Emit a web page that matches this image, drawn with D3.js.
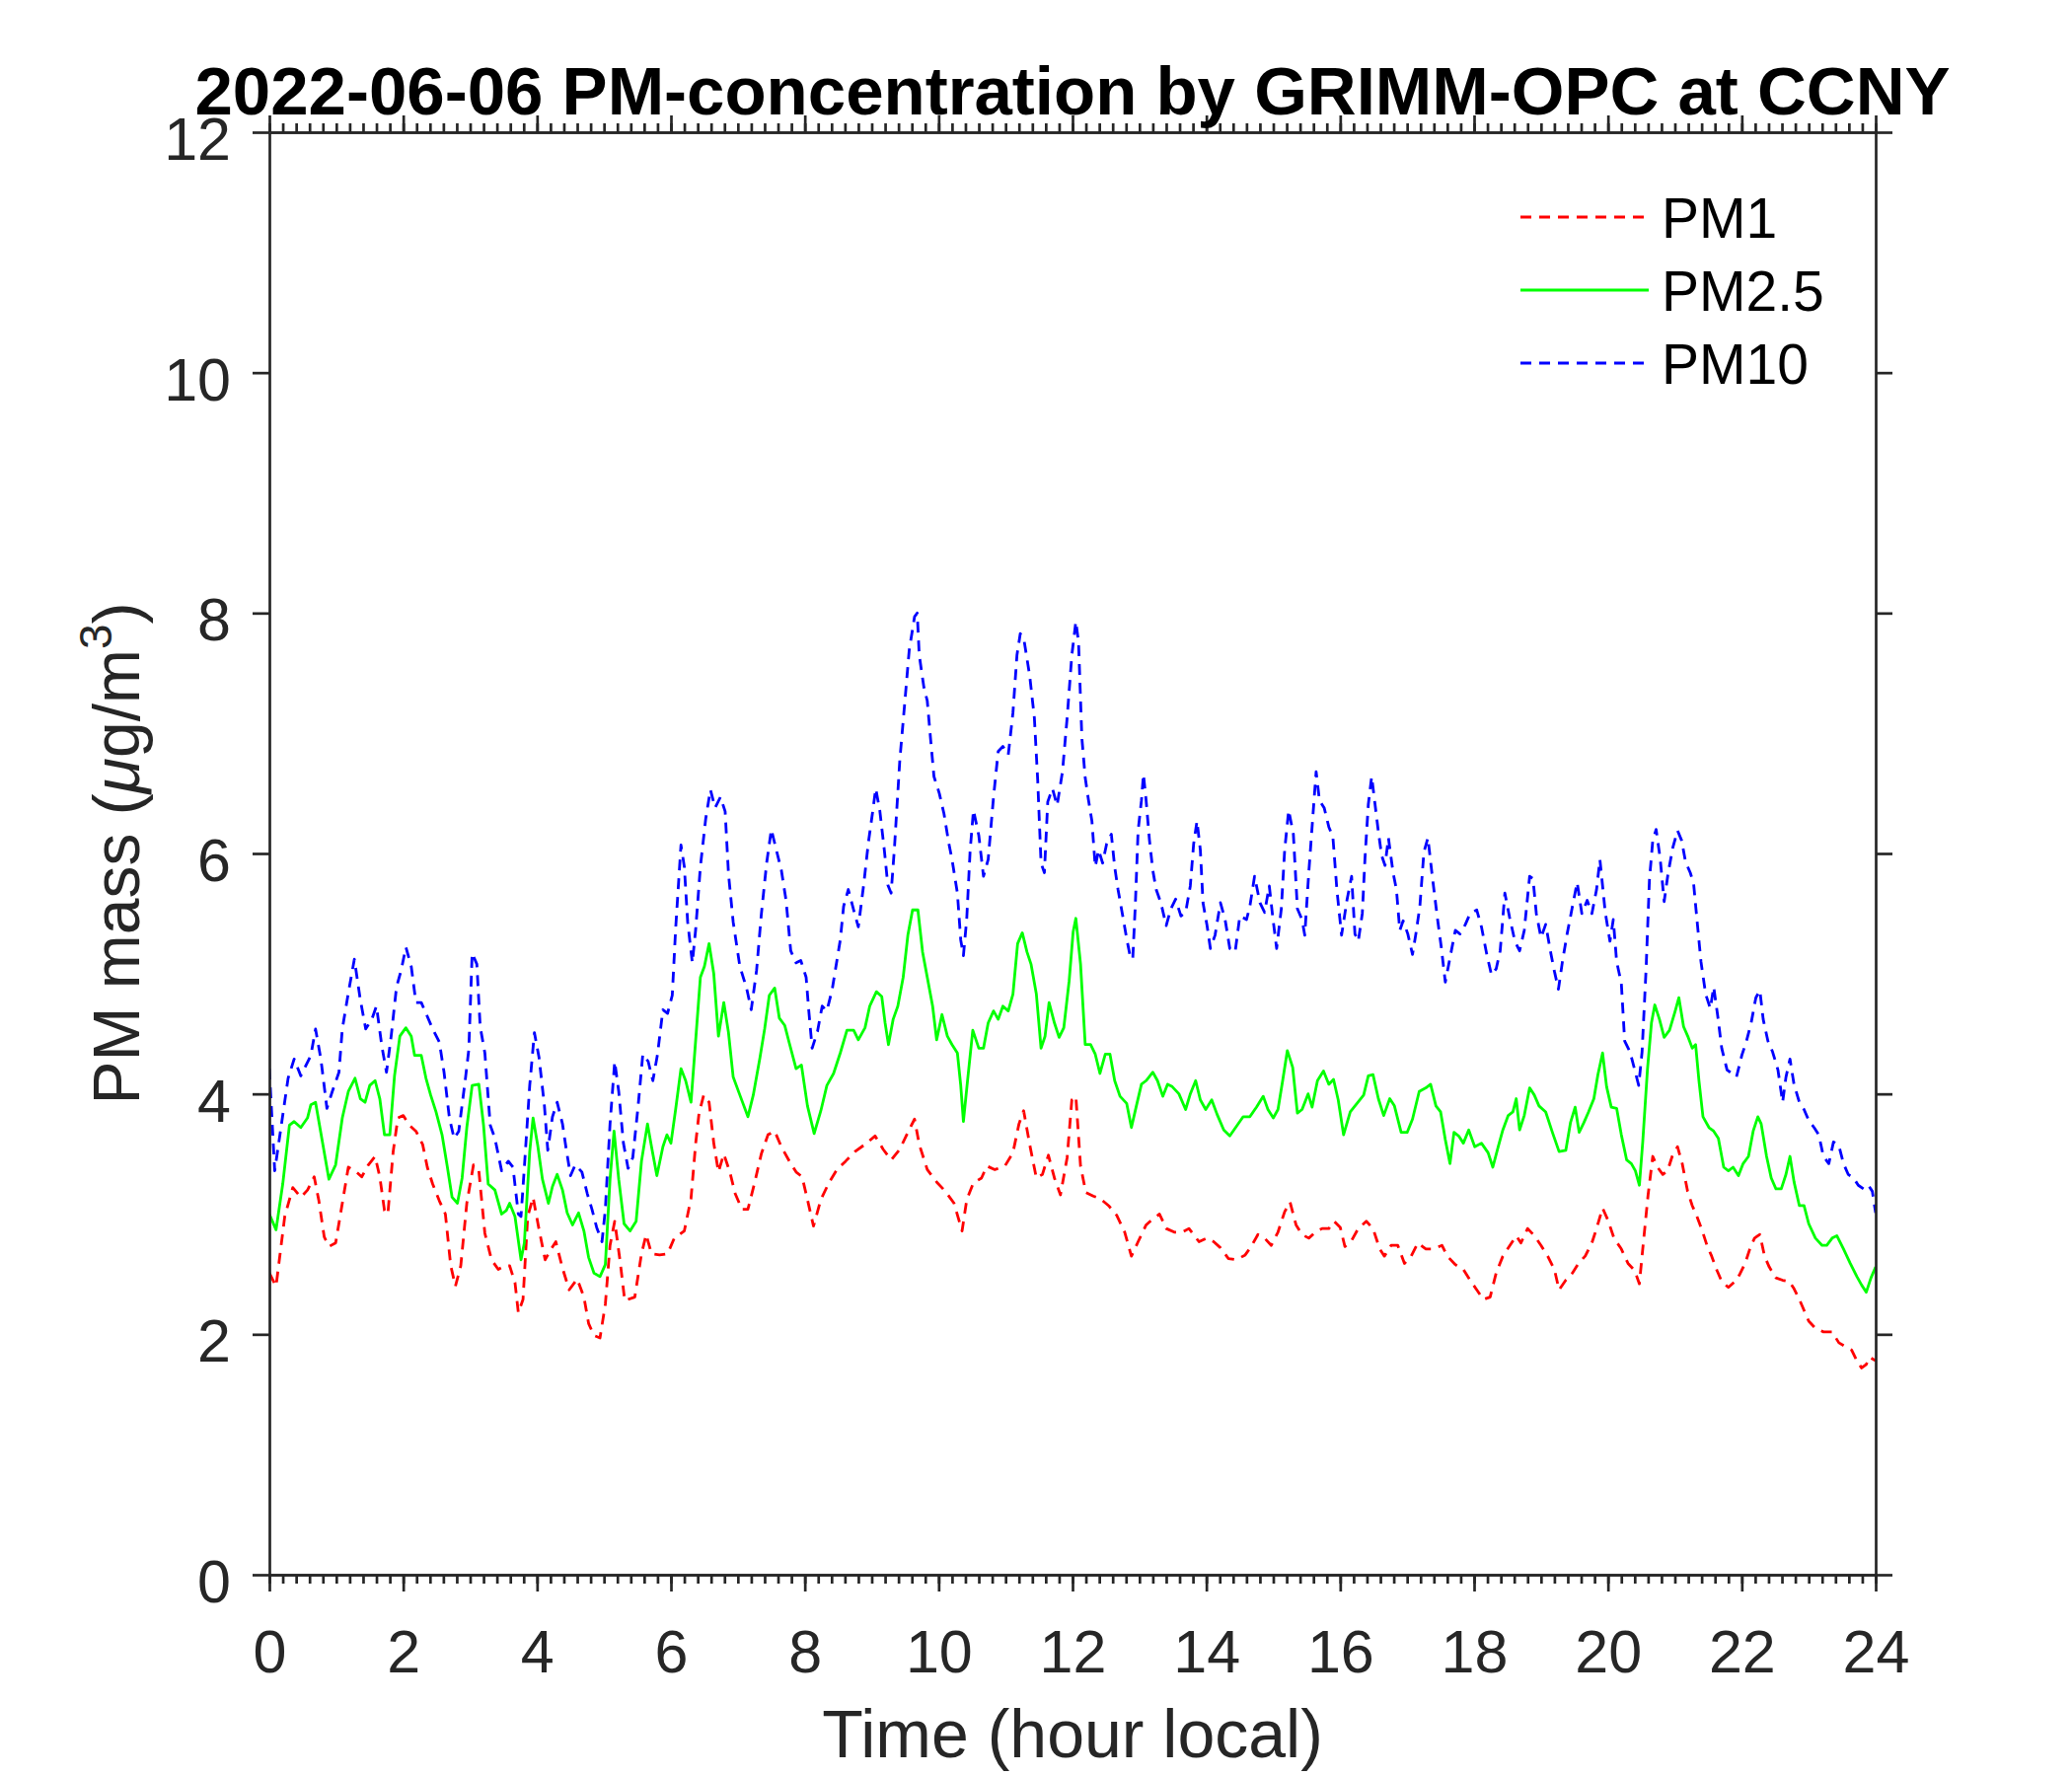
<!DOCTYPE html>
<html>
<head>
<meta charset="utf-8">
<script src="https://cdn.jsdelivr.net/npm/d3@7"></script>
<style>
  body { margin: 0; background: #fff; }
  svg { display: block; }
</style>
</head>
<body>
<div id="chart"></div>
<script>
// readings: [hour, value in ug/m3]
const pm1Data = [
  [0,2.51],[0.10,2.40],[0.23,2.98],[0.35,3.22],[0.47,3.14],[0.57,3.20],[0.67,3.31],[0.74,3.11],[0.82,2.81],[0.89,2.73],
  [0.99,2.76],[1.09,3.09],[1.18,3.39],[1.28,3.36],[1.38,3.31],[1.48,3.41],[1.58,3.48],[1.65,3.31],[1.72,3.03],[1.77,3.00],
  [1.85,3.52],[1.92,3.80],[2.00,3.82],[2.09,3.74],[2.19,3.69],[2.29,3.58],[2.36,3.39],[2.44,3.25],[2.54,3.11],[2.63,3.00],
  [2.71,2.57],[2.78,2.40],[2.86,2.57],[2.95,3.09],[3.05,3.41],[3.13,3.36],[3.22,2.84],[3.32,2.62],[3.42,2.54],[3.52,2.57],
  [3.59,2.57],[3.67,2.43],[3.72,2.18],[3.79,2.29],[3.86,2.98],[3.94,3.14],[4.02,2.90],[4.12,2.62],[4.21,2.71],[4.28,2.77],
  [4.38,2.55],[4.48,2.37],[4.60,2.46],[4.70,2.31],[4.77,2.09],[4.85,1.99],[4.94,1.97],[5.02,2.25],[5.09,2.74],[5.16,2.94],
  [5.24,2.61],[5.31,2.28],[5.46,2.31],[5.56,2.67],[5.63,2.83],[5.71,2.67],[5.83,2.66],[5.95,2.67],[6.05,2.80],[6.20,2.86],
  [6.30,3.13],[6.37,3.59],[6.42,3.84],[6.49,3.99],[6.57,3.93],[6.64,3.59],[6.71,3.35],[6.79,3.50],[6.88,3.35],[6.96,3.17],
  [7.06,3.04],[7.15,3.04],[7.25,3.26],[7.35,3.50],[7.45,3.66],[7.55,3.69],[7.65,3.56],[7.77,3.44],[7.87,3.35],[7.96,3.31],
  [8.04,3.12],[8.13,2.90],[8.24,3.12],[8.36,3.26],[8.48,3.37],[8.61,3.44],[8.75,3.52],[8.90,3.58],[9.05,3.65],[9.17,3.54],
  [9.29,3.45],[9.42,3.54],[9.54,3.68],[9.64,3.79],[9.71,3.58],[9.83,3.37],[9.98,3.26],[10.10,3.19],[10.23,3.09],[10.35,2.86],
  [10.42,3.12],[10.52,3.26],[10.64,3.30],[10.72,3.40],[10.84,3.37],[10.99,3.40],[11.11,3.51],[11.20,3.75],[11.27,3.86],[11.36,3.58],
  [11.46,3.30],[11.55,3.33],[11.64,3.49],[11.73,3.30],[11.82,3.16],[11.92,3.47],[11.99,3.95],[12.05,3.98],[12.12,3.40],[12.20,3.18],
  [12.31,3.15],[12.41,3.13],[12.54,3.07],[12.66,2.99],[12.78,2.85],[12.88,2.65],[12.98,2.77],[13.10,2.91],[13.20,2.96],[13.30,3.00],
  [13.40,2.88],[13.52,2.85],[13.64,2.85],[13.74,2.88],[13.89,2.77],[14.01,2.80],[14.11,2.77],[14.21,2.72],[14.33,2.63],[14.45,2.62],
  [14.58,2.66],[14.67,2.73],[14.77,2.83],[14.87,2.80],[14.97,2.74],[15.07,2.85],[15.17,3.02],[15.25,3.10],[15.34,2.91],[15.43,2.83],
  [15.53,2.80],[15.63,2.85],[15.73,2.88],[15.83,2.88],[15.91,2.94],[16.00,2.89],[16.07,2.73],[16.17,2.78],[16.27,2.88],[16.39,2.94],
  [16.49,2.88],[16.59,2.71],[16.66,2.65],[16.76,2.74],[16.86,2.74],[16.96,2.59],[17.06,2.65],[17.16,2.76],[17.28,2.71],[17.40,2.71],
  [17.52,2.74],[17.60,2.65],[17.72,2.58],[17.84,2.54],[17.94,2.45],[18.04,2.37],[18.14,2.29],[18.24,2.31],[18.33,2.51],[18.43,2.65],
  [18.56,2.76],[18.63,2.82],[18.70,2.76],[18.80,2.88],[18.90,2.82],[19.00,2.74],[19.10,2.65],[19.20,2.54],[19.27,2.37],[19.37,2.45],
  [19.47,2.51],[19.56,2.59],[19.66,2.65],[19.76,2.76],[19.83,2.88],[19.92,3.05],[20.00,2.95],[20.09,2.80],[20.20,2.71],[20.30,2.59],
  [20.40,2.53],[20.47,2.42],[20.52,2.71],[20.60,3.16],[20.67,3.48],[20.74,3.39],[20.82,3.33],[20.89,3.36],[20.96,3.48],[21.04,3.56],
  [21.11,3.42],[21.19,3.19],[21.26,3.07],[21.33,2.98],[21.41,2.86],[21.48,2.74],[21.55,2.65],[21.63,2.53],[21.70,2.44],[21.80,2.39],
  [21.90,2.44],[21.97,2.50],[22.05,2.59],[22.12,2.71],[22.19,2.80],[22.27,2.83],[22.34,2.65],[22.41,2.56],[22.51,2.47],[22.61,2.45],
  [22.71,2.44],[22.78,2.38],[22.86,2.29],[22.93,2.20],[23.00,2.11],[23.10,2.05],[23.22,2.02],[23.35,2.02],[23.45,1.93],[23.54,1.90],
  [23.64,1.87],[23.72,1.78],[23.79,1.72],[23.86,1.75],[23.91,1.81],[24.0,1.78]
]

const pm25Data = [
  [0,3.00],[0.10,2.87],[0.20,3.25],[0.30,3.74],[0.37,3.77],[0.47,3.72],[0.57,3.80],[0.62,3.91],[0.69,3.93],[0.79,3.61],
  [0.89,3.29],[0.99,3.41],[1.09,3.80],[1.18,4.02],[1.28,4.13],[1.36,3.96],[1.43,3.93],[1.50,4.07],[1.58,4.11],[1.65,3.96],
  [1.72,3.66],[1.80,3.66],[1.87,4.15],[1.95,4.48],[2.04,4.55],[2.12,4.48],[2.17,4.32],[2.27,4.32],[2.34,4.13],[2.41,3.99],
  [2.49,3.85],[2.58,3.66],[2.66,3.39],[2.73,3.14],[2.81,3.09],[2.88,3.30],[2.95,3.72],[3.03,4.07],[3.13,4.08],[3.20,3.74],
  [3.27,3.25],[3.37,3.20],[3.47,3.00],[3.54,3.03],[3.59,3.09],[3.67,2.98],[3.76,2.62],[3.81,2.76],[3.89,3.52],[3.94,3.80],
  [4.01,3.57],[4.08,3.29],[4.17,3.09],[4.23,3.23],[4.30,3.33],[4.38,3.20],[4.45,3.01],[4.53,2.91],[4.62,3.01],[4.70,2.86],
  [4.77,2.64],[4.85,2.51],[4.94,2.48],[5.02,2.58],[5.09,3.29],[5.15,3.69],[5.22,3.29],[5.30,2.92],[5.39,2.86],[5.48,2.94],
  [5.56,3.44],[5.65,3.75],[5.71,3.56],[5.79,3.32],[5.88,3.56],[5.94,3.66],[6.00,3.59],[6.07,3.87],[6.15,4.21],[6.22,4.11],
  [6.30,3.93],[6.37,4.45],[6.44,4.97],[6.50,5.06],[6.57,5.25],[6.64,5.00],[6.71,4.48],[6.79,4.76],[6.86,4.51],[6.93,4.14],
  [7.03,3.99],[7.15,3.81],[7.23,3.99],[7.33,4.30],[7.40,4.54],[7.47,4.82],[7.55,4.88],[7.62,4.63],[7.70,4.57],[7.77,4.42],
  [7.87,4.21],[7.95,4.24],[8.04,3.90],[8.14,3.67],[8.24,3.86],[8.33,4.07],[8.43,4.17],[8.53,4.34],[8.63,4.53],[8.73,4.53],
  [8.80,4.45],[8.90,4.55],[8.97,4.73],[9.07,4.85],[9.15,4.81],[9.20,4.59],[9.25,4.41],[9.32,4.62],[9.39,4.73],[9.47,4.97],
  [9.54,5.32],[9.61,5.53],[9.69,5.53],[9.76,5.18],[9.83,4.97],[9.91,4.73],[9.97,4.45],[10.05,4.66],[10.13,4.48],[10.20,4.41],
  [10.28,4.34],[10.33,4.07],[10.37,3.77],[10.43,4.10],[10.51,4.53],[10.60,4.38],[10.67,4.38],[10.74,4.59],[10.82,4.69],[10.89,4.62],
  [10.96,4.73],[11.04,4.69],[11.11,4.83],[11.18,5.25],[11.25,5.34],[11.32,5.18],[11.38,5.08],[11.46,4.83],[11.53,4.38],[11.59,4.48],
  [11.65,4.76],[11.73,4.59],[11.80,4.47],[11.87,4.55],[11.95,4.94],[12.01,5.35],[12.05,5.46],[12.12,5.08],[12.19,4.41],[12.27,4.41],
  [12.34,4.33],[12.41,4.17],[12.49,4.33],[12.56,4.33],[12.63,4.11],[12.71,3.98],[12.81,3.92],[12.88,3.72],[12.95,3.89],[13.03,4.08],
  [13.10,4.11],[13.20,4.18],[13.27,4.11],[13.35,3.98],[13.42,4.08],[13.49,4.06],[13.59,4.00],[13.69,3.87],[13.76,4.00],[13.84,4.11],
  [13.91,3.95],[13.99,3.87],[14.08,3.95],[14.16,3.83],[14.26,3.70],[14.35,3.65],[14.45,3.73],[14.55,3.81],[14.65,3.81],[14.75,3.89],
  [14.85,3.98],[14.92,3.87],[15.00,3.80],[15.07,3.87],[15.14,4.11],[15.21,4.36],[15.29,4.22],[15.36,3.84],[15.43,3.87],[15.52,4.00],
  [15.58,3.89],[15.66,4.11],[15.75,4.19],[15.83,4.08],[15.90,4.12],[15.97,3.95],[16.05,3.66],[16.15,3.85],[16.25,3.92],[16.35,3.99],
  [16.42,4.15],[16.49,4.16],[16.57,3.96],[16.65,3.82],[16.74,3.96],[16.81,3.90],[16.91,3.68],[17.00,3.68],[17.08,3.79],[17.18,4.02],
  [17.28,4.05],[17.35,4.08],[17.43,3.90],[17.50,3.85],[17.57,3.62],[17.64,3.42],[17.70,3.68],[17.77,3.65],[17.84,3.59],[17.92,3.70],
  [18.01,3.56],[18.11,3.59],[18.21,3.51],[18.28,3.39],[18.36,3.56],[18.43,3.70],[18.51,3.82],[18.58,3.85],[18.63,3.96],[18.68,3.70],
  [18.75,3.82],[18.83,4.05],[18.90,3.99],[18.97,3.90],[19.07,3.85],[19.17,3.68],[19.27,3.52],[19.37,3.53],[19.44,3.76],[19.51,3.89],
  [19.57,3.68],[19.64,3.76],[19.71,3.85],[19.79,3.96],[19.85,4.16],[19.92,4.34],[19.98,4.06],[20.05,3.89],[20.13,3.88],[20.20,3.66],
  [20.28,3.45],[20.35,3.42],[20.41,3.36],[20.47,3.24],[20.52,3.60],[20.59,4.20],[20.65,4.59],[20.70,4.74],[20.77,4.62],[20.84,4.47],
  [20.92,4.53],[21.00,4.68],[21.06,4.80],[21.13,4.56],[21.20,4.47],[21.26,4.38],[21.31,4.41],[21.36,4.11],[21.42,3.81],[21.51,3.72],
  [21.58,3.69],[21.65,3.63],[21.73,3.39],[21.80,3.36],[21.87,3.39],[21.95,3.32],[22.02,3.42],[22.10,3.48],[22.17,3.69],[22.24,3.81],
  [22.29,3.75],[22.37,3.48],[22.44,3.30],[22.51,3.21],[22.59,3.21],[22.66,3.33],[22.72,3.48],[22.78,3.27],[22.86,3.07],[22.93,3.07],
  [23.00,2.92],[23.10,2.80],[23.20,2.74],[23.27,2.74],[23.35,2.80],[23.42,2.82],[23.52,2.71],[23.62,2.59],[23.72,2.48],[23.79,2.41],
  [23.86,2.35],[23.93,2.47],[24.0,2.56]
]

const pm10Data = [
  [0,4.21],[0.08,3.36],[0.28,4.13],[0.37,4.29],[0.47,4.15],[0.62,4.32],[0.69,4.54],[0.77,4.29],[0.86,3.88],[0.94,4.02],
  [1.04,4.18],[1.09,4.54],[1.18,4.84],[1.27,5.12],[1.36,4.78],[1.44,4.54],[1.53,4.62],[1.60,4.73],[1.68,4.40],[1.75,4.18],
  [1.82,4.48],[1.90,4.89],[1.97,5.03],[2.04,5.22],[2.12,5.06],[2.19,4.76],[2.27,4.76],[2.34,4.67],[2.44,4.54],[2.54,4.43],
  [2.61,4.18],[2.69,3.80],[2.76,3.63],[2.83,3.69],[2.93,4.13],[2.98,4.37],[3.03,5.17],[3.10,5.08],[3.15,4.56],[3.22,4.34],
  [3.30,3.74],[3.37,3.63],[3.47,3.36],[3.57,3.44],[3.64,3.39],[3.72,3.00],[3.76,2.98],[3.81,3.39],[3.89,4.07],[3.96,4.51],
  [4.03,4.30],[4.11,3.90],[4.16,3.53],[4.23,3.81],[4.30,3.93],[4.38,3.75],[4.43,3.56],[4.50,3.32],[4.57,3.41],[4.67,3.35],
  [4.75,3.17],[4.82,3.04],[4.89,2.89],[4.97,2.77],[5.02,3.04],[5.09,3.75],[5.16,4.27],[5.22,4.02],[5.29,3.59],[5.36,3.38],
  [5.43,3.47],[5.51,3.90],[5.58,4.33],[5.66,4.27],[5.73,4.11],[5.80,4.33],[5.88,4.70],[5.95,4.67],[6.02,4.82],[6.07,5.37],
  [6.15,6.07],[6.20,5.89],[6.25,5.43],[6.32,5.09],[6.37,5.37],[6.44,5.89],[6.52,6.29],[6.59,6.53],[6.66,6.38],[6.74,6.47],
  [6.81,6.35],[6.86,5.83],[6.93,5.43],[7.03,5.06],[7.13,4.88],[7.20,4.70],[7.28,5.03],[7.35,5.49],[7.43,5.92],[7.50,6.20],
  [7.57,6.04],[7.65,5.86],[7.72,5.61],[7.79,5.19],[7.87,5.09],[7.94,5.11],[8.02,4.97],[8.06,4.69],[8.11,4.38],[8.19,4.52],
  [8.26,4.73],[8.33,4.69],[8.41,4.87],[8.48,5.11],[8.53,5.28],[8.58,5.56],[8.65,5.70],[8.73,5.53],[8.80,5.39],[8.88,5.74],
  [8.95,6.09],[9.01,6.33],[9.06,6.54],[9.12,6.36],[9.19,6.02],[9.24,5.74],[9.29,5.67],[9.34,6.05],[9.42,6.78],[9.49,7.23],
  [9.56,7.69],[9.64,7.97],[9.68,8.00],[9.71,7.65],[9.78,7.38],[9.83,7.27],[9.88,6.95],[9.93,6.64],[10.01,6.50],[10.08,6.33],
  [10.15,6.09],[10.20,5.95],[10.28,5.67],[10.33,5.28],[10.37,5.15],[10.42,5.46],[10.47,6.02],[10.52,6.36],[10.60,6.15],[10.67,5.81],
  [10.74,5.95],[10.82,6.47],[10.89,6.85],[10.96,6.89],[11.04,6.82],[11.11,7.17],[11.17,7.65],[11.22,7.83],[11.28,7.76],[11.36,7.48],
  [11.43,7.13],[11.48,6.61],[11.53,5.92],[11.58,5.84],[11.63,6.43],[11.70,6.54],[11.77,6.40],[11.85,6.68],[11.92,7.13],[11.99,7.65],
  [12.05,7.93],[12.09,7.76],[12.14,6.96],[12.19,6.63],[12.24,6.44],[12.29,6.27],[12.34,5.89],[12.39,6.03],[12.45,5.92],[12.51,6.08],
  [12.58,6.16],[12.63,5.89],[12.68,5.70],[12.76,5.45],[12.81,5.29],[12.86,5.15],[12.90,5.12],[12.94,5.59],[12.98,6.19],[13.03,6.44],
  [13.06,6.66],[13.10,6.44],[13.15,6.11],[13.20,5.86],[13.25,5.70],[13.32,5.59],[13.40,5.40],[13.47,5.54],[13.54,5.62],[13.62,5.48],
  [13.69,5.51],[13.76,5.73],[13.81,6.08],[13.86,6.27],[13.91,6.03],[13.95,5.59],[14.01,5.40],[14.06,5.21],[14.13,5.32],[14.21,5.59],
  [14.28,5.45],[14.35,5.21],[14.43,5.18],[14.50,5.48],[14.60,5.45],[14.65,5.56],[14.72,5.81],[14.80,5.59],[14.87,5.51],[14.94,5.73],
  [14.99,5.48],[15.05,5.21],[15.12,5.54],[15.17,6.03],[15.23,6.36],[15.30,6.16],[15.36,5.54],[15.43,5.45],[15.47,5.32],[15.53,5.84],
  [15.59,6.30],[15.64,6.68],[15.69,6.44],[15.76,6.38],[15.83,6.22],[15.89,6.14],[15.95,5.70],[16.02,5.32],[16.10,5.61],[16.17,5.81],
  [16.22,5.33],[16.27,5.27],[16.33,5.50],[16.37,5.96],[16.42,6.41],[16.47,6.64],[16.52,6.41],[16.57,6.18],[16.62,5.98],[16.67,5.90],
  [16.72,6.13],[16.79,5.84],[16.84,5.70],[16.89,5.36],[16.94,5.44],[17.01,5.33],[17.08,5.16],[17.13,5.33],[17.19,5.56],[17.25,6.01],
  [17.31,6.13],[17.38,5.79],[17.45,5.47],[17.51,5.22],[17.57,4.93],[17.65,5.16],[17.72,5.36],[17.79,5.33],[17.87,5.41],[17.94,5.50],
  [18.04,5.53],[18.11,5.39],[18.19,5.16],[18.26,4.99],[18.33,5.04],[18.39,5.19],[18.46,5.67],[18.53,5.47],[18.61,5.27],[18.68,5.19],
  [18.75,5.36],[18.83,5.81],[18.88,5.79],[18.93,5.50],[19.00,5.30],[19.07,5.41],[19.15,5.16],[19.20,5.02],[19.26,4.87],[19.32,5.10],
  [19.39,5.33],[19.47,5.56],[19.54,5.76],[19.61,5.50],[19.69,5.61],[19.76,5.50],[19.83,5.70],[19.88,5.95],[19.96,5.51],[20.03,5.27],
  [20.08,5.45],[20.13,5.10],[20.20,4.92],[20.25,4.44],[20.33,4.35],[20.40,4.20],[20.46,4.07],[20.51,4.35],[20.57,5.04],[20.62,5.78],
  [20.67,6.11],[20.72,6.20],[20.78,5.96],[20.84,5.60],[20.90,5.84],[20.97,6.05],[21.04,6.19],[21.10,6.11],[21.16,5.93],[21.23,5.84],
  [21.28,5.75],[21.33,5.45],[21.39,5.10],[21.46,4.83],[21.53,4.71],[21.58,4.89],[21.64,4.65],[21.70,4.38],[21.78,4.20],[21.85,4.17],
  [21.92,4.14],[22.00,4.32],[22.07,4.44],[22.14,4.59],[22.21,4.80],[22.27,4.86],[22.32,4.62],[22.39,4.44],[22.46,4.35],[22.54,4.20],
  [22.61,3.93],[22.66,4.14],[22.72,4.29],[22.78,4.08],[22.86,3.93],[22.93,3.87],[23.00,3.78],[23.08,3.72],[23.15,3.66],[23.22,3.48],
  [23.30,3.42],[23.37,3.60],[23.45,3.57],[23.52,3.42],[23.59,3.33],[23.67,3.30],[23.74,3.24],[23.82,3.21],[23.89,3.24],[23.95,3.19],
  [24.0,3.01]
]

const seriesNames = ["PM1", "PM2.5", "PM10"]
const xTicks = [0, 2, 4, 6, 8, 10, 12, 14, 16, 18, 20, 22, 24]
const yTicks = [0, 2, 4, 6, 8, 10, 12]
const xMinorTicks = d3.range(0, 121).map(i => i / 5)

const width = 2100
const height = 1800
const plotLeft = 273, plotRight = 1901, plotTop = 134, plotBottom = 1596
const axisColor = "#262626"
const font = "'Liberation Sans', Arial, Helvetica, sans-serif"

const series = [
  { name: seriesNames[0], data: pm1Data, color: "#ff0000", dash: "11,8" },
  { name: seriesNames[1], data: pm25Data, color: "#00ff00", dash: null },
  { name: seriesNames[2], data: pm10Data, color: "#0000ff", dash: "11,8" }
]

const svg = d3.select("#chart").append("svg")
  .attr("width", width)
  .attr("height", height)
  .style("background", "#fff")

const x = d3.scaleLinear().domain([0, 24]).range([plotLeft, plotRight])
const y = d3.scaleLinear().domain([0, 12]).range([plotBottom, plotTop])

svg.append("clipPath").attr("id", "plot-clip")
  .append("rect")
  .attr("x", plotLeft).attr("y", plotTop)
  .attr("width", plotRight - plotLeft).attr("height", plotBottom - plotTop)

// lines
const line = d3.line().x(d => x(d[0])).y(d => y(d[1]))
svg.append("g").attr("clip-path", "url(#plot-clip)")
  .selectAll("path")
  .data(series)
  .join("path")
  .attr("d", d => line(d.data))
  .attr("fill", "none")
  .attr("stroke", d => d.color)
  .attr("stroke-width", 2.8)
  .attr("stroke-dasharray", d => d.dash)
  .attr("stroke-linejoin", "round")

// axes
function styleAxis(g) {
  g.selectAll(".domain").attr("stroke", axisColor).attr("stroke-width", 2.7)
  g.selectAll(".tick line").attr("stroke", axisColor).attr("stroke-width", 2.7)
  g.selectAll(".tick text")
    .attr("fill", axisColor)
    .style("font-family", font)
    .style("font-size", "61px")
}

svg.append("g")
  .attr("transform", `translate(0,${plotBottom})`)
  .call(d3.axisBottom(x).tickValues(xMinorTicks).tickSize(9).tickSizeOuter(0).tickFormat(""))
  .call(styleAxis)

svg.append("g")
  .attr("transform", `translate(0,${plotTop})`)
  .call(d3.axisTop(x).tickValues(xMinorTicks).tickSize(9).tickSizeOuter(0).tickFormat(""))
  .call(styleAxis)

svg.append("g")
  .attr("transform", `translate(0,${plotBottom})`)
  .call(d3.axisBottom(x).tickValues(xTicks).tickSize(17).tickSizeOuter(0).tickPadding(39).tickFormat(d3.format("d")))
  .call(styleAxis)

svg.append("g")
  .attr("transform", `translate(0,${plotTop})`)
  .call(d3.axisTop(x).tickValues(xTicks).tickSize(17).tickSizeOuter(0).tickFormat(""))
  .call(styleAxis)

svg.append("g")
  .attr("transform", `translate(${plotLeft},0)`)
  .call(d3.axisLeft(y).tickValues(yTicks).tickSize(17).tickSizeOuter(0).tickPadding(22).tickFormat(d3.format("d")))
  .call(styleAxis)
  .selectAll(".tick text").attr("dy", "0.45em")

svg.append("g")
  .attr("transform", `translate(${plotRight},0)`)
  .call(d3.axisRight(y).tickValues(yTicks).tickSize(17).tickSizeOuter(0).tickFormat(""))
  .call(styleAxis)

// title
svg.append("text")
  .attr("x", (plotLeft + plotRight) / 2)
  .attr("y", 116)
  .attr("text-anchor", "middle")
  .style("font-family", font)
  .style("font-size", "69px")
  .style("font-weight", "bold")
  .attr("fill", "#000")
  .text("2022-06-06 PM-concentration by GRIMM-OPC at CCNY")

// x label
svg.append("text")
  .attr("x", (plotLeft + plotRight) / 2)
  .attr("y", 1781)
  .attr("text-anchor", "middle")
  .style("font-family", font)
  .style("font-size", "68px")
  .attr("fill", axisColor)
  .text("Time (hour local)")

// y label with italic mu and superscript
const yLabel = svg.append("text")
  .attr("transform", `translate(141,${(plotTop + plotBottom) / 2}) rotate(-90)`)
  .attr("text-anchor", "middle")
  .style("font-family", font)
  .style("font-size", "66px")
  .attr("fill", axisColor)
yLabel.append("tspan").text("PM mass (")
yLabel.append("tspan").style("font-style", "italic").text("\u03bc")
yLabel.append("tspan").text("g/m")
yLabel.append("tspan").attr("dy", -28).style("font-size", "46px").text("3")
yLabel.append("tspan").attr("dy", 28).text(")")

// legend
const legendRows = [220, 294, 368]
const legend = svg.append("g")
legend.selectAll("line")
  .data(series)
  .join("line")
  .attr("x1", 1541).attr("x2", 1671)
  .attr("y1", (d, i) => legendRows[i]).attr("y2", (d, i) => legendRows[i])
  .attr("stroke", d => d.color)
  .attr("stroke-width", 2.8)
  .attr("stroke-dasharray", d => d.dash)
legend.selectAll("text")
  .data(series)
  .join("text")
  .attr("x", 1684)
  .attr("y", (d, i) => legendRows[i] + 21)
  .style("font-family", font)
  .style("font-size", "57px")
  .attr("fill", "#000")
  .text(d => d.name)
</script>
</body>
</html>
